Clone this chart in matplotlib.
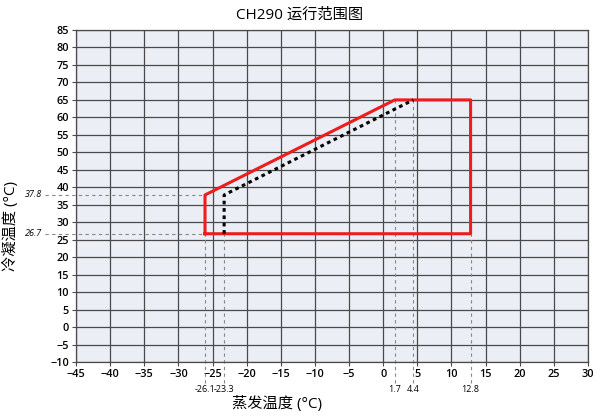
import matplotlib

matplotlib.use("Agg")

import matplotlib.pyplot as plt
import numpy as np

plt.rcParams["font.family"] = ["Open Sans", "Noto Sans CJK SC", "DejaVu Sans"]

# operating envelope corners (evaporating, condensing temperature)
envelope_x = [-26.1, -26.1, 1.7, 12.8, 12.8, -26.1]
envelope_y = [26.7, 37.8, 65, 65, 26.7, 26.7]

# inner dotted limit
limit_x = [-23.3, -23.3, 4.4]
limit_y = [26.7, 37.8, 65]

x_marks = [-26.1, -23.3, 1.7, 4.4, 12.8]
x_mark_tops = [26.7, 26.7, 65, 65, 26.7]
y_marks = [37.8, 26.7]

x_ticks = np.arange(-45, 31, 5)
y_ticks = np.arange(-10, 86, 5)

fig = plt.figure(figsize=(6, 4.16), dpi=100)
W, H = 600, 416
left, right, top, bottom = 76, 588, 30, 362
ax = fig.add_axes([left / W, 1 - bottom / H, (right - left) / W, (bottom - top) / H])
ax.set_facecolor("#eceef5")
ax.set_xlim(-45, 30)
ax.set_ylim(-10, 85)
ax.set_xticks(x_ticks)
ax.set_yticks(y_ticks)
ax.grid(True, color="#4a4a4a", linewidth=0.9)
ax.set_axisbelow(True)
for spine in ax.spines.values():
    spine.set_color("#4a4a4a")
    spine.set_linewidth(0.9)
ax.tick_params(labelsize=7.8, length=3, color="#4a4a4a", pad=2)
for label in ax.get_xticklabels() + ax.get_yticklabels():
    label.set_fontweight("semibold")

guide = dict(color="#888888", linestyle=(0, (3, 3)), linewidth=0.8, clip_on=False, zorder=2)
for xm, top_y in zip(x_marks, x_mark_tops):
    ax.plot([xm, xm], [-16.0, top_y], **guide)
for ym in y_marks:
    ax.plot([-49.5, -26.1], [ym, ym], **guide)

ax.plot(envelope_x, envelope_y, color="#ee1c1c", linewidth=2.2, zorder=4)
ax.plot(limit_x, limit_y, color="black", linewidth=2.2, linestyle=(0, (1.2, 1.2)), zorder=5)

for xm in x_marks:
    ax.text(xm, -16.6, f"{xm:g}", ha="center", va="top", fontsize=6.5, clip_on=False)
for ym in y_marks:
    ax.text(-50.0, ym, f"{ym:g}", ha="right", va="center", fontsize=6.5, style="italic", clip_on=False)

fig.text(0.5, 1 - 15 / H, "CH290 运行范围图", ha="center", va="center", fontsize=11)
fig.text(277 / W, 1 - 404 / H, "蒸发温度 (°C)", ha="center", va="center", fontsize=11)
fig.text(11 / W, 1 - 226 / H, "冷凝温度 (°C)", ha="center", va="center", fontsize=11, rotation=90)

fig.savefig("out.png", dpi=100)
